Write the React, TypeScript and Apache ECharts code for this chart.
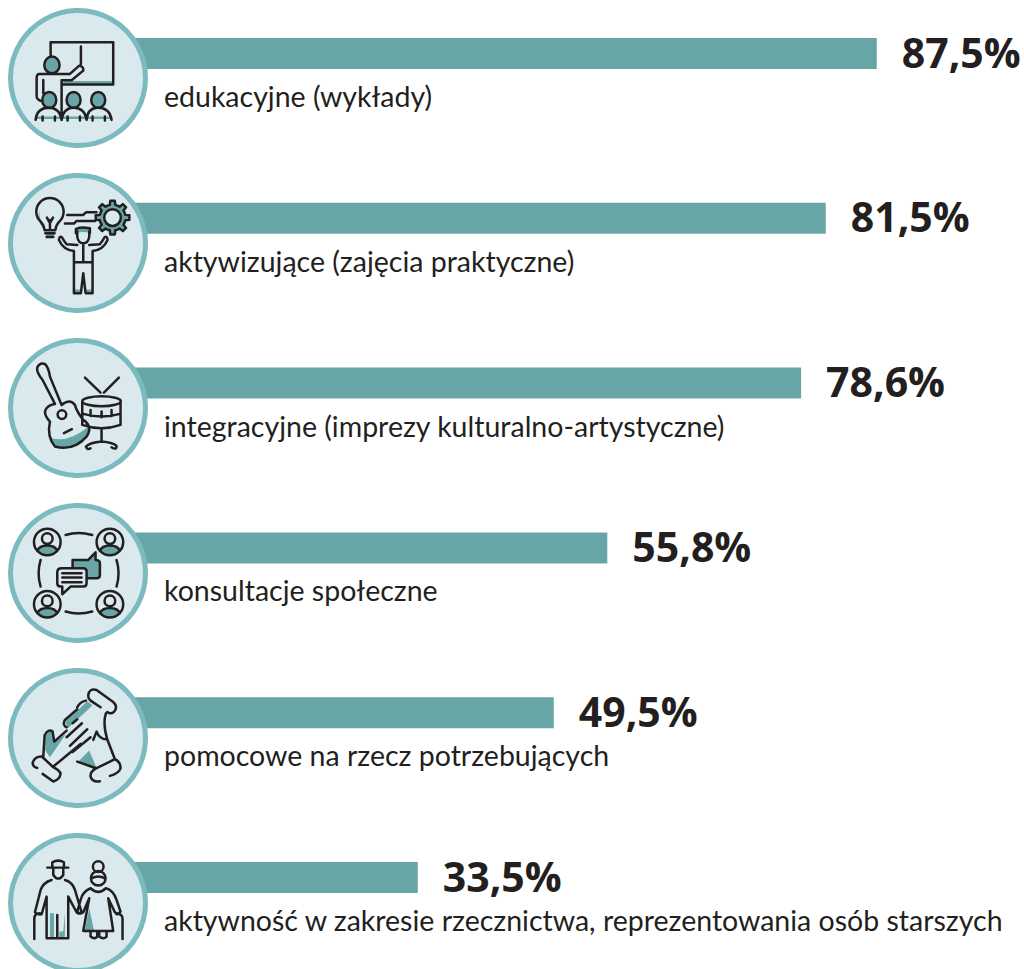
import React, { useEffect, useRef } from "react";
import * as echarts from "echarts";

const categories = [
  "edukacyjne (wykłady)",
  "aktywizujące (zajęcia praktyczne)",
  "integracyjne (imprezy kulturalno-artystyczne)",
  "konsultacje społeczne",
  "pomocowe na rzecz potrzebujących",
  "aktywność w zakresie rzecznictwa, reprezentowania osób starszych",
];
const values = [87.5, 81.5, 78.6, 55.8, 49.5, 33.5];

const TEAL = "#68A5A6";
const RING = "#7BBABF";
const DISC = "#D9E9EE";
const INK = "#231F20";

const circ = (cx: number, cy: number, r: number, ry: number = r) =>
  `M${cx - r} ${cy}A${r} ${ry} 0 1 1 ${cx + r} ${cy}A${r} ${ry} 0 1 1 ${cx - r} ${cy}Z`;

function gear(cx: number, cy: number, r1: number, r2: number, n: number) {
  let d = "";
  const step = (Math.PI * 2) / n;
  for (let i = 0; i < n; i++) {
    const a = i * step - Math.PI / 2;
    const pts: [number, number][] = [
      [r2, a - step * 0.5],
      [r2, a - step * 0.27],
      [r1, a - step * 0.17],
      [r1, a + step * 0.17],
      [r2, a + step * 0.27],
    ];
    pts.forEach(([r, t], j) => {
      const x = (cx + r * Math.cos(t)).toFixed(1);
      const y = (cy + r * Math.sin(t)).toFixed(1);
      d += (i === 0 && j === 0 ? "M" : "L") + x + " " + y;
    });
  }
  return d + "Z";
}

type Layers = { teal?: string; disc?: string; ink?: string };

const person = (cx: number, cy: number) =>
  circ(cx, cy, 40) + circ(cx, cy - 10, 16) +
  `M${cx - 30} ${cy + 27}Q${cx - 24} ${cy + 11} ${cx} ${cy + 11}Q${cx + 24} ${cy + 11} ${cx + 30} ${cy + 27}`;
const personFill = (cx: number, cy: number) =>
  `M${cx - 30} ${cy + 27}Q${cx - 24} ${cy + 11} ${cx} ${cy + 11}Q${cx + 24} ${cy + 11} ${cx + 30} ${cy + 27}Q${cx} ${cy + 52} ${cx - 30} ${cy + 27}Z`;

const icons: Layers[] = [
  {
    teal:
      circ(156, 195, 23, 25) + circ(148, 300, 21, 24) + circ(221, 300, 21, 24) + circ(295, 300, 21, 24) +
      "M190 243H336V254H190Z M110 350H335V357H110Z",
    ink:
      "M152 170V127H340V254H190 M243 140V192" + circ(156, 195, 23, 25) +
      "M133 222H118Q110 222 110 235V288Q110 298 122 303 M133 222H210L238 197Q252 200 250 212L215 241H185V360 M130 240V280" +
      circ(148, 300, 21, 24) + circ(221, 300, 21, 24) + circ(295, 300, 21, 24) +
      "M107 360Q110 325 147 323Q180 325 185 360Q190 325 221 323Q255 325 260 360Q262 325 295 323Q330 325 335 360" +
      "M128 350V362M165 350V362M203 350V362M240 350V362M278 350V362M315 350V362",
  },
  {
    teal:
      gear(338, 158, 51, 39, 8) +
      "M122 130Q104 165 134 196L128 175Q112 150 122 130Z M136 205H164L160 218H140Z" +
      "M228 205V192Q240 184 270 190V205Q250 198 228 205Z M222 374H243V387H222Z M257 374H278V387H257Z",
    disc: circ(338, 158, 25),
    ink:
      gear(338, 158, 51, 39, 8) + circ(338, 158, 25) +
      "M134 196Q132 180 122 170A41 41 0 1 1 178 170Q168 180 166 196Z M136 205H164M140 216H160" +
      "M150 195V165M150 175L141 158M150 175L159 158" +
      "M202 150H250L258 142H290M195 176H222L230 168H285" +
      "M228 205V192Q240 184 270 190V205 M232 200V215Q235 235 250 235Q265 235 268 215V200" +
      "M232 240L200 238Q190 225 186 217Q178 212 177 225Q190 255 222 258V292H278V258Q310 255 323 225Q322 212 314 217Q310 225 300 238L268 240" +
      "M250 238V292M222 292V385H243L250 325L257 385H278V292",
  },
  {
    teal: "M155 325Q205 340 268 288Q272 310 250 330Q210 362 165 350Z",
    ink:
      "M165 222Q140 225 135 245Q135 260 150 275Q140 320 165 350Q220 365 260 320Q280 290 250 270Q230 245 225 225Q210 205 185 225" +
      "M165 222L128 150Q108 125 112 112Q120 96 135 102Q146 112 150 140L185 225" +
      circ(186, 254, 13) + "M192 310L216 298" +
      circ(305, 214, 58, 15) + "M247 214V285Q305 305 362 285V214M250 252Q305 268 360 252M272 240V258M305 245V262M335 240V258" +
      "M255 143L302 188M357 143L312 188M305 300V335M305 335Q270 338 258 350Q262 362 272 355M305 335Q340 338 350 348Q350 362 335 352",
  },
  {
    teal:
      personFill(142, 141) + personFill(330, 141) + personFill(142, 328) + personFill(330, 328) +
      "M218 195H265L287 172V195Q300 195 300 205V240Q300 250 290 250H255V220H215Z",
    disc: "M172 232Q172 220 185 220H250Q260 220 260 230V265Q260 275 250 275H212L187 298V275H182Q172 275 172 265Z",
    ink:
      person(142, 141) + person(330, 141) + person(142, 328) + person(330, 328) +
      "M197 120Q235 108 277 120M197 350Q235 362 277 350M122 195Q110 235 122 275M350 195Q362 235 350 275" +
      "M218 220V195H265L287 172V195Q300 195 300 205V240Q300 250 290 250H262" +
      "M172 232Q172 220 185 220H250Q260 220 260 230V265Q260 275 250 275H212L187 298V275H182Q172 275 172 265Z" +
      "M187 235H245M187 248H245M187 262H245",
  },
  {
    teal: "M196 186L262 124L278 136L204 205Z M136 228L148 215L158 218L162 248L198 222L150 292L136 272Z M234 306L268 272L290 324Z",
    ink:
      "M265 106Q268 84 290 90L340 126Q356 140 342 156Q332 164 322 156M302 142L272 122Q264 115 265 106" +
      "M258 122Q240 125 232 142M232 148L195 180Q186 195 200 202M318 160Q308 190 322 238Q300 240 290 215L280 240" +
      "M232 178L218 190M246 190L200 232M262 208L210 258M272 232L218 276" +
      "M130 290L134 226Q145 205 158 215L163 245L200 212" +
      "M128 290Q105 288 98 308Q98 322 112 324M128 342L160 365Q180 360 182 340Q176 330 160 322L128 292" +
      "M160 320L242 252M322 238L345 298Q362 305 362 325Q358 340 330 348M345 298L290 325Q270 335 272 350Q278 368 300 364" +
      "M232 305L288 325",
  },
  {
    teal: "M150 265H162V340H150Z M195 265V335L178 340V320L190 320Z M268 250L255 315H282Z",
    ink:
      "M142 128H205M157 128V112Q175 102 192 112V128M160 130V150Q175 172 190 150V130" +
      "M155 165Q130 172 122 195L105 262Q112 270 125 268L140 215V340H172V270V340H205V215L230 262Q238 270 245 262L225 195Q218 172 195 165" +
      "M103 342V282Q103 265 120 265" +
      circ(295, 125, 16) + circ(295, 160, 22) + "M275 160Q295 150 315 160" +
      "M272 190Q248 200 242 225L232 260Q240 270 250 262L268 220L250 318H340L325 220L345 262Q355 270 362 260L350 225Q340 195 318 190" +
      "M272 190Q295 212 318 190M272 318V335Q285 345 292 335V318M298 318V335Q310 345 320 335V318" +
      "M368 342V282Q368 265 350 268",
  },
];

const registered = new Set<string>();
function shape(name: string, d: string) {
  if (!registered.has(name)) {
    echarts.graphic.registerShape(name, echarts.graphic.extendPath(d, {}) as any);
    registered.add(name);
  }
  return name;
}

function iconGraphics() {
  const out: any[] = [];
  icons.forEach((ic, i) => {
    const oy = i * 165;
    out.push({
      type: "circle",
      z: 20,
      shape: { cx: 78, cy: 78 + oy, r: 67.5 },
      style: { fill: DISC, stroke: RING, lineWidth: 5 },
    });
    const base = { x: 0, y: oy, scaleX: 1 / 3, scaleY: 1 / 3 };
    if (ic.teal)
      out.push({ type: shape(`i${i}t`, ic.teal), z: 21, ...base, style: { fill: TEAL, stroke: "none" } });
    if (ic.disc)
      out.push({ type: shape(`i${i}d`, ic.disc), z: 22, ...base, style: { fill: DISC, stroke: "none" } });
    if (ic.ink)
      out.push({
        type: shape(`i${i}k`, ic.ink),
        z: 23,
        ...base,
        style: { fill: "none", stroke: INK, lineWidth: 7.5, lineCap: "round", lineJoin: "round" },
      });
  });
  return out;
}

export default function App() {
  const ref = useRef<HTMLDivElement>(null);
  useEffect(() => {
    const chart = echarts.init(ref.current!, undefined, { renderer: "svg" });
    chart.setOption({
      animation: false,
      backgroundColor: "#ffffff",
      grid: { left: 133, width: 850, top: -28.9, height: 988.8, containLabel: false, outerBoundsMode: "none" },
      xAxis: { type: "value", min: 0, max: 100, show: false },
      yAxis: {
        type: "category",
        inverse: true,
        data: categories,
        axisLine: { show: false },
        axisTick: { show: false },
        splitLine: { show: false },
        axisLabel: {
          inside: true,
          interval: 0,
          margin: 31,
          align: "left",
          verticalAlign: "top",
          lineHeight: 85,
          color: INK,
          fontFamily: "Lato, sans-serif",
          fontSize: 28.5,
        },
      },
      series: [
        {
          type: "bar",
          data: values,
          barWidth: 31,
          itemStyle: { color: TEAL },
          label: {
            show: true,
            position: "right",
            distance: 25,
            offset: [0, -2],
            color: INK,
            fontFamily: "'Open Sans', sans-serif",
            fontWeight: 700,
            fontSize: 41,
            formatter: (p: any) => p.value.toFixed(1).replace(".", ",") + "%",
          },
        },
      ],
      graphic: { elements: iconGraphics() },
    });
    return () => chart.dispose();
  }, []);
  return <div ref={ref} style={{ position: "absolute", left: 0, top: 0, width: 1024, height: 969 }} />;
}
